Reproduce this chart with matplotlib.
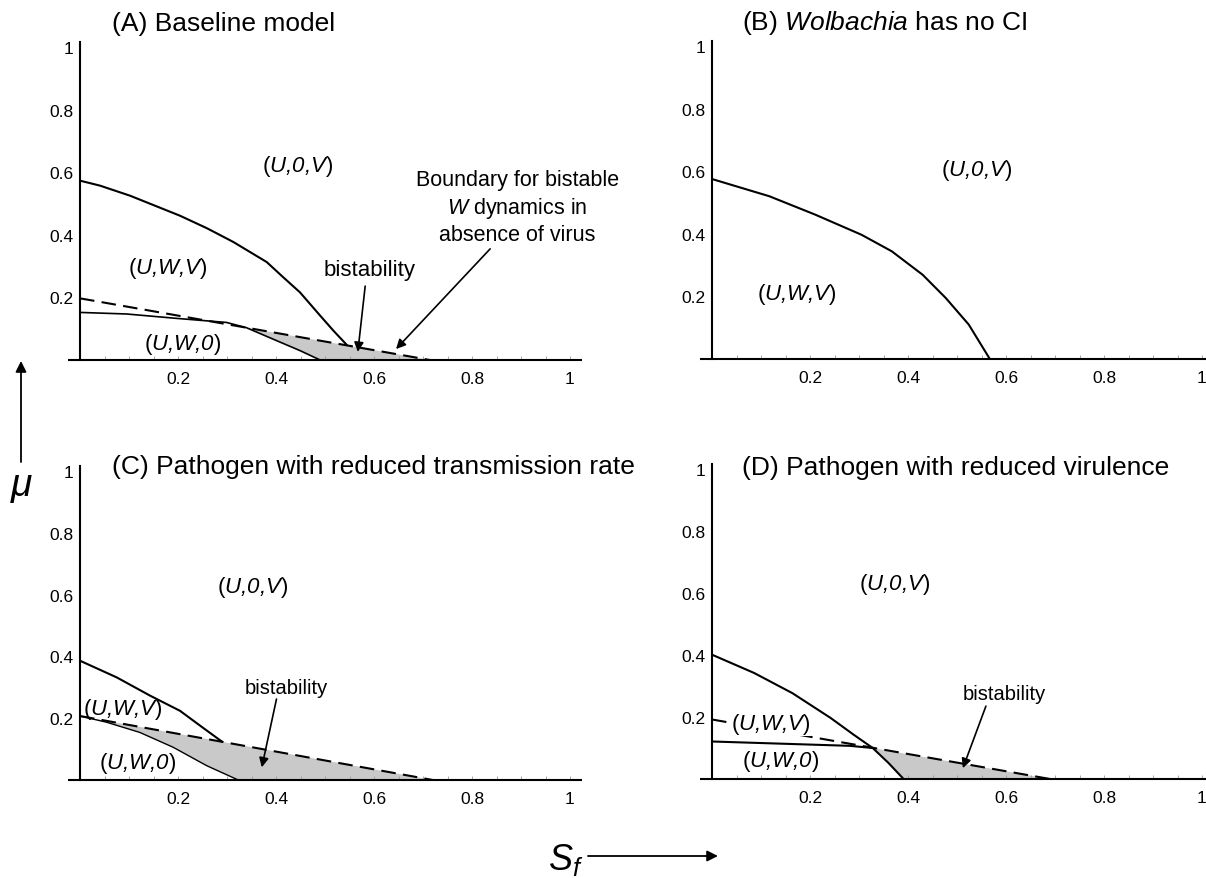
import numpy as np
import matplotlib
matplotlib.use("Agg")
import matplotlib.pyplot as plt

plt.rcParams['font.family'] = 'Liberation Sans'
plt.rcParams['mathtext.fontset'] = 'custom'
plt.rcParams['mathtext.rm'] = 'Liberation Sans'
plt.rcParams['mathtext.it'] = 'Liberation Sans:italic'

# значения
# (A) базовая модель
a_upper_x = [0, 0.041, 0.102, 0.204, 0.259, 0.313, 0.381, 0.415, 0.449, 0.49, 0.517, 0.544]
a_upper_y = [0.573, 0.557, 0.525, 0.461, 0.421, 0.377, 0.313, 0.264, 0.216, 0.142, 0.094, 0.049]
a_lower_x = [0, 0.095, 0.197, 0.299, 0.34, 0.401, 0.449, 0.49]
a_lower_y = [0.152, 0.147, 0.133, 0.12, 0.103, 0.062, 0.03, 0.0]
a_dash_x = [0, 0.714]
a_dash_y = [0.197, 0.0]

# (B) без CI
b_upper_x = [0, 0.117, 0.211, 0.305, 0.367, 0.43, 0.477, 0.524, 0.567]
b_upper_y = [0.575, 0.52, 0.461, 0.397, 0.344, 0.269, 0.195, 0.11, 0.0]

# (C) сниженная передача
c_upper_x = [0, 0.075, 0.143, 0.204, 0.245, 0.289]
c_upper_y = [0.386, 0.332, 0.273, 0.224, 0.176, 0.125]
c_lower_x = [0, 0.054, 0.122, 0.19, 0.259, 0.323]
c_lower_y = [0.207, 0.187, 0.154, 0.106, 0.046, 0.0]
c_dash_x = [0, 0.72]
c_dash_y = [0.207, 0.0]

# (D) сниженная вирулентность
d_upper_x = [0, 0.086, 0.164, 0.242, 0.289, 0.328, 0.36, 0.391]
d_upper_y = [0.401, 0.342, 0.277, 0.197, 0.143, 0.1, 0.052, 0.0]
d_lower_x = [0, 0.281, 0.328]
d_lower_y = [0.121, 0.107, 0.1]
d_dash_x = [0, 0.69]
d_dash_y = [0.192, 0.0]

tick_vals = [0.2, 0.4, 0.6, 0.8, 1.0]
tick_labels = ['0.2', '0.4', '0.6', '0.8', '1']

W, H = 1206, 879
fig = plt.figure(figsize=(W / 100, H / 100), dpi=100)

LW = 1.5
DASH = (7, 3.5)
GREY = '#c9c9c9'


def make_axes(x0, y0, sx, sy, xmax, ymax=1.016):
    # x0, y0 - пиксели начала координат, sx, sy - пикселей на единицу
    ax = fig.add_axes([x0 / W, 1 - y0 / H, sx * xmax / W, sy * ymax / H])
    ax.set_xlim(0, xmax)
    ax.set_ylim(0, ymax)
    for s in ['top', 'right', 'bottom']:
        ax.spines[s].set_visible(False)
    ax.spines['left'].set_linewidth(LW)
    ax.plot([-0.024, xmax], [0, 0], color='k', lw=LW, clip_on=False,
            solid_capstyle='butt', zorder=5)
    ax.set_xticks(tick_vals)
    ax.set_xticklabels(tick_labels)
    ax.set_xticks(np.arange(0.05, 1.01, 0.05), minor=True)
    ax.tick_params(axis='x', which='both', direction='in', length=3,
                   width=0.6, color='0.6', pad=8, labelsize=12.5)
    ax.set_yticks(tick_vals)
    ax.set_yticklabels(tick_labels)
    ax.tick_params(axis='y', length=0, pad=5, labelsize=12.5)
    return ax


def region(ax, x, y, inner, **kw):
    # скобки прямые, содержимое курсивом
    ax.text(x, y, '$\\mathrm{(}$' + inner + '$\\mathrm{)}$', ha='center',
            va='center', fontsize=16, style='italic', zorder=6, **kw)


def arrow(ax, tail, tip):
    ax.annotate('', xy=tip, xytext=tail,
                arrowprops=dict(arrowstyle='-|>', color='k', lw=1.2,
                                mutation_scale=14, shrinkA=0, shrinkB=0),
                zorder=6)


ax_a = make_axes(80, 361, 490, 313, 1.024)
ax_b = make_axes(712, 360, 490, 313, 1.008)
ax_c = make_axes(80, 781, 490, 309, 1.024)
ax_d = make_axes(712, 780, 490, 310, 1.008)

# (A)
poly_x = a_lower_x[4:] + [a_dash_x[-1]]
poly_y = a_lower_y[4:] + [a_dash_y[-1]]
ax_a.fill(poly_x, poly_y, color=GREY, lw=0, zorder=1)
ax_a.plot(a_upper_x, a_upper_y, color='k', lw=LW, zorder=3)
ax_a.plot(a_lower_x, a_lower_y, color='k', lw=1.2, zorder=3)
ax_a.plot(a_dash_x, a_dash_y, color='k', lw=LW, dashes=DASH, zorder=3)
region(ax_a, 0.443, 0.62, 'U,0,V')
region(ax_a, 0.18, 0.297, 'U,W,V')
region(ax_a, 0.21, 0.054, 'U,W,0')
ax_a.text(0.59, 0.288, 'bistability', ha='center', va='center', fontsize=16)
arrow(ax_a, (0.582, 0.236), (0.567, 0.026))
ax_a.text(0.892, 0.489, 'Boundary for bistable\n$\\mathit{W}$ dynamics in\nabsence of virus',
          ha='center', va='center', fontsize=15.5, linespacing=1.25)
arrow(ax_a, (0.837, 0.355), (0.645, 0.035))

# (B)
ax_b.plot(b_upper_x, b_upper_y, color='k', lw=LW, zorder=3)
region(ax_b, 0.539, 0.607, 'U,0,V')
region(ax_b, 0.173, 0.208, 'U,W,V')

# (C)
poly_x = c_lower_x + [c_dash_x[-1]]
poly_y = c_lower_y + [c_dash_y[-1]]
ax_c.fill(poly_x, poly_y, color=GREY, lw=0, zorder=1)
ax_c.plot(c_upper_x, c_upper_y, color='k', lw=LW, zorder=3)
ax_c.plot(c_lower_x, c_lower_y, color='k', lw=1.0, zorder=3)
ax_c.plot(c_dash_x, c_dash_y, color='k', lw=LW, dashes=DASH, zorder=3)
region(ax_c, 0.353, 0.625, 'U,0,V')
region(ax_c, 0.088, 0.23, 'U,W,V')
region(ax_c, 0.118, 0.058, 'U,W,0')
ax_c.text(0.422, 0.298, 'bistability', ha='center', va='center', fontsize=14.5)
arrow(ax_c, (0.401, 0.262), (0.371, 0.041))

# (D)
poly_x = d_upper_x[5:] + [d_dash_x[-1]]
poly_y = d_upper_y[5:] + [d_dash_y[-1]]
ax_d.fill(poly_x, poly_y, color=GREY, lw=0, zorder=1)
ax_d.plot(d_upper_x, d_upper_y, color='k', lw=LW, zorder=3)
ax_d.plot(d_lower_x, d_lower_y, color='k', lw=LW, zorder=3)
ax_d.plot(d_dash_x, d_dash_y, color='k', lw=LW, dashes=DASH, zorder=3)
region(ax_d, 0.373, 0.632, 'U,0,V')
region(ax_d, 0.12, 0.18, 'U,W,V',
       bbox=dict(facecolor='white', edgecolor='none', pad=0.5))
region(ax_d, 0.141, 0.061, 'U,W,0')
ax_d.text(0.596, 0.277, 'bistability', ha='center', va='center', fontsize=14.5)
arrow(ax_d, (0.559, 0.235), (0.512, 0.035))

# заголовки панелей
fig.text(112 / W, 1 - 24 / H, '(A) Baseline model', fontsize=19, va='center')
fig.text(742 / W, 1 - 23 / H, '(B) $\\mathit{Wolbachia}$ has no CI', fontsize=19, va='center')
fig.text(112 / W, 1 - 467 / H, '(C) Pathogen with reduced transmission rate', fontsize=19, va='center')
fig.text(742 / W, 1 - 468 / H, '(D) Pathogen with reduced virulence', fontsize=19, va='center')

# общие подписи осей
fig.text(22 / W, 1 - 487 / H, '$\\mu$', fontsize=28, ha='center', va='center')
ax_a.annotate('', xy=(21, H - 362), xytext=(21, H - 463),
              xycoords='figure pixels', textcoords='figure pixels',
              arrowprops=dict(arrowstyle='-|>', color='k', lw=1.3,
                              mutation_scale=16, shrinkA=0, shrinkB=0),
              annotation_clip=False)
fig.text(566 / W, 1 - 860 / H, '$S_f$', fontsize=26, ha='center', va='center')
ax_a.annotate('', xy=(718, H - 857), xytext=(588, H - 857),
              xycoords='figure pixels', textcoords='figure pixels',
              arrowprops=dict(arrowstyle='-|>', color='k', lw=1.3,
                              mutation_scale=16, shrinkA=0, shrinkB=0),
              annotation_clip=False)

fig.savefig('out.png', dpi=100)
